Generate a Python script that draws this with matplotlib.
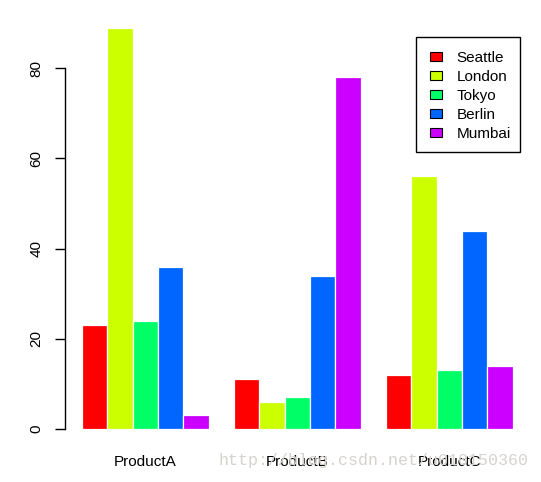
import matplotlib
matplotlib.use("Agg")
import matplotlib.pyplot as plt
from matplotlib.patches import Rectangle
import numpy as np

products = ["ProductA", "ProductB", "ProductC"]
cities = ["Seattle", "London", "Tokyo", "Berlin", "Mumbai"]
values = {
    "Seattle": [23, 11, 12],
    "London": [89, 6, 56],
    "Tokyo": [24, 7, 13],
    "Berlin": [36, 34, 44],
    "Mumbai": [3, 78, 14],
}
colors = ["#FF0000", "#CCFF00", "#00FF66", "#0066FF", "#CC00FF"]
yticks = [0, 20, 40, 60, 80]

plt.rcParams['font.family'] = ['Liberation Sans', 'DejaVu Sans']

W, H = 541, 482
fig = plt.figure(figsize=(W / 100, H / 100), dpi=100)
left_px, right_px, bot_px, top_px = 65, 520, 429, 20
ax = fig.add_axes([left_px / W, 1 - bot_px / H, (right_px - left_px) / W, (bot_px - top_px) / H])

u0, uw = 56.67, 25.33
ax.set_xlim((left_px - u0) / uw, (right_px - u0) / uw)
ax.set_ylim(0, (bot_px - top_px) / 4.51)

ngroups = len(products)
for i, (city, col) in enumerate(zip(cities, colors)):
    xs = [1 + 6 * g + i for g in range(ngroups)]
    ax.bar(xs, values[city], width=1, align='edge', color=col, edgecolor='white',
           linewidth=0.9, label=city)

ax.set_xticks([1 + 6 * g + 2.5 for g in range(ngroups)])
ax.set_xticklabels(products, fontsize=11)
ax.tick_params(axis='x', length=0, pad=19)
ax.set_yticks(yticks)
ax.set_yticklabels([str(t) for t in yticks], fontsize=11, rotation=90, va='center')
ax.tick_params(axis='y', length=7.2, width=1, pad=8.5)
for s in ['top', 'right', 'bottom']:
    ax.spines[s].set_visible(False)
ax.spines['left'].set_bounds(0, 80)
ax.spines['left'].set_linewidth(1)

fig.text(218 / W, 1 - 461 / H, "http://blog.csdn.net/u010150360", family='Liberation Mono',
         fontsize=12, color='#d6d2ce', va='center', ha='left', zorder=0)

# Legend drawn in an overlay with pixel coordinates (R-style legend box)
lax = fig.add_axes([0, 0, 1, 1], facecolor='none')
lax.set_xlim(0, W)
lax.set_ylim(H, 0)
lax.axis('off')
lax.add_patch(Rectangle((416, 37), 104, 115, facecolor='white', edgecolor='black', linewidth=1))
for k, (city, col) in enumerate(zip(cities, colors)):
    yc = 56.5 + 19 * k
    lax.add_patch(Rectangle((429.5, yc - 4.7), 12.5, 9.4, facecolor=col, edgecolor='black', linewidth=0.8))
    lax.text(456.5, yc + 1.5, city, fontsize=11, va='center', ha='left')

fig.savefig("out.png", dpi=100)
